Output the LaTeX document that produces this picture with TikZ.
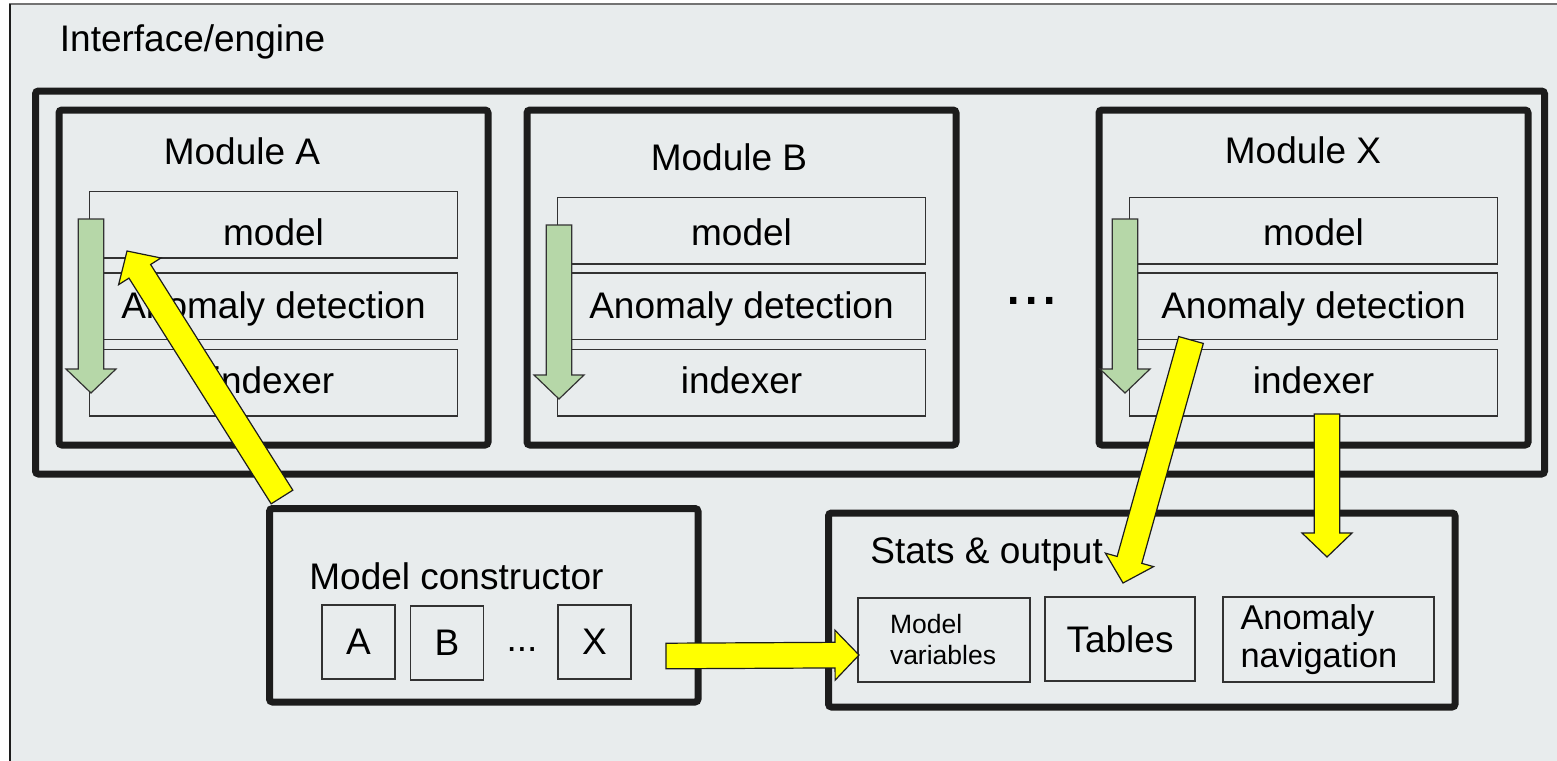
\documentclass[tikz,border=0pt]{standalone}
\usepackage{fontspec}
\setmainfont{Liberation Sans}
\usetikzlibrary{calc}

\definecolor{panelgray}{RGB}{232,236,237}
\definecolor{boxblack}{RGB}{28,28,28}
\definecolor{rowgray}{RGB}{50,50,50}
\definecolor{leafgreen}{RGB}{182,215,168}
\definecolor{flowyellow}{RGB}{255,255,0}

\tikzset{
  txt/.style={inner sep=0pt, font=\fontsize{18.5}{22}\selectfont},
  thickbox/.style={draw=boxblack, line width=3.5pt, rounded corners=1.5pt, inner sep=0pt},
  thinbox/.style={draw=rowgray, line width=0.75pt, inner sep=0pt, font=\fontsize{18.5}{22}\selectfont},
  row/.style={thinbox, minimum width=184pt, minimum height=33.25pt, text depth=0pt},
  greenarrow/.style={fill=leafgreen, draw=rowgray, line width=0.6pt},
  yellowarrow/.style={fill=flowyellow, draw=boxblack, line width=0.6pt},
}

% block arrow: #1 style, #2 tail, #3 tip
\newcommand{\blockarrow}[3]{%
  \coordinate (ba) at ($(#3)!12pt!(#2)$);
  \filldraw[#1]
    ($(#2)!6.4pt!90:(#3)$) -- ($(ba)!6.4pt!90:(#3)$) -- ($(ba)!12.5pt!90:(#3)$) -- (#3)
    -- ($(ba)!12.5pt!-90:(#3)$) -- ($(ba)!6.4pt!-90:(#3)$) -- ($(#2)!6.4pt!-90:(#3)$) -- cycle;}

\begin{document}
\begin{tikzpicture}[x=0.5pt, y=-0.5pt]
  \useasboundingbox (0,0) rectangle (1557,760);
  \clip (0,0) rectangle (1557,760);
  \fill[white] (0,0) rectangle (1557,760);
  \draw[fill=panelgray, draw=black!55, line width=1pt] (10,4) rectangle (1620,820);
  \draw[boxblack, line width=1.2pt] (10,4) -- (10,820);
  \node[txt, anchor=base west] (engineTitle) at (59.5,51) {Interface/engine};
  \node[thickbox, minimum width=754.5pt, minimum height=191.5pt] (engine) at (790,282.5) {};

  % the three modules
  \foreach \m/\x/\tx/\tb/\rt/\gx/\gt in {A/59/242/164/191/91/219, B/527/729/170/197/559/225, X/1099/1303/163/197/1125/219}{
    \pgfmathsetmacro\cx{\x+214.5}
    \pgfmathsetmacro\mh{211.5-\rt}
    \node[thickbox, minimum width=214.5pt, minimum height=167.5pt] (mod\m) at (\cx,277.5) {};
    \node[txt, anchor=base] (title\m) at (\tx,\tb) {Module \m};
    \node[row, text height=\mh pt] (model\m) at (\cx,\rt+33.5) {model};
    \node[row, text height=12pt] (detect\m) at (\cx,306) {Anomaly detection};
    \node[row, text height=10.5pt] (idx\m) at (\cx,382.5) {indexer};
    \coordinate (gtop\m) at (\gx,\gt);
    \coordinate (gtip\m) at (\gx,\gt+174);
    \blockarrow{greenarrow}{gtop\m}{gtip\m}
  }
  \node[anchor=base, inner sep=0pt, font=\fontsize{33}{33}\selectfont] (moreMods) at (1031.5,304) {...};

  % model constructor
  \node[thickbox, minimum width=214.25pt, minimum height=96.75pt] (ctor) at (483.75,605.25) {};
  \node[txt, anchor=base west] (ctorTitle) at (309,589) {Model constructor};
  \node[thinbox, minimum width=36.5pt, minimum height=37pt] (ctorA) at (358.5,642) {A};
  \node[thinbox, minimum width=36.5pt, minimum height=37pt] (ctorB) at (447,643) {B};
  \node[txt, anchor=base] (ctorDots) at (522,651) {...};
  \node[thinbox, minimum width=36.5pt, minimum height=37pt] (ctorX) at (594.5,642) {X};

  % stats & output
  \node[thickbox, minimum width=313.25pt, minimum height=97pt] (stats) at (1141.75,610) {};
  \node[txt, anchor=base west] (statsTitle) at (870,563) {Stats \& output};
  \node[thinbox, minimum width=86pt, minimum height=42pt, text width=54pt, align=left,
        inner xsep=16pt, font=\fontsize{13.25}{15.5}\selectfont] (vars) at (944,640) {Model\\variables};
  \node[thinbox, minimum width=75pt, minimum height=42pt] (tables) at (1120,639) {Tables};
  \node[thinbox, minimum width=105.5pt, minimum height=42.5pt, text width=88pt, align=left,
        inner xsep=8.5pt, font=\fontsize{17.2}{19}\selectfont] (nav) at (1328.5,639.5) {Anomaly\\navigation};

  % yellow flows
  \coordinate (buildTail) at (282,497);
  \coordinate (buildTip) at (127,251);
  \coordinate (detectTail) at (1191,340);
  \coordinate (detectTip) at (1123,583);
  \coordinate (indexTail) at (1327,414);
  \coordinate (indexTip) at (1327,557);
  \coordinate (varsTail) at (666,656);
  \coordinate (varsTip) at (859,655);
  \blockarrow{yellowarrow}{buildTail}{buildTip}
  \blockarrow{yellowarrow}{detectTail}{detectTip}
  \blockarrow{yellowarrow}{indexTail}{indexTip}
  \blockarrow{yellowarrow}{varsTail}{varsTip}
\end{tikzpicture}
\end{document}
